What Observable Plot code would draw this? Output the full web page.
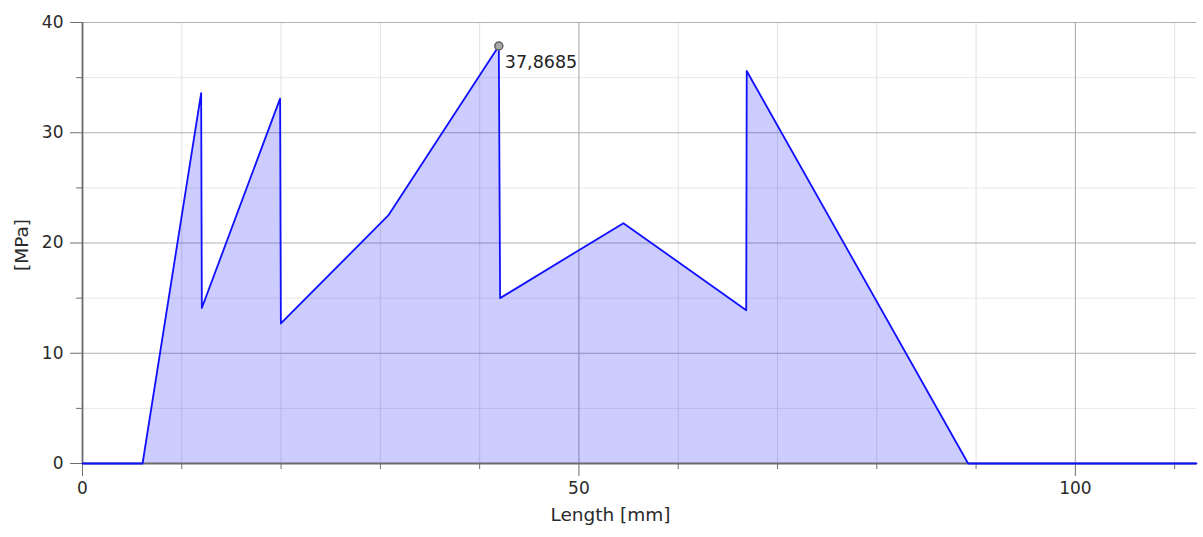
<!DOCTYPE html>
<html><head><meta charset="utf-8">
<script src="https://cdn.jsdelivr.net/npm/d3@7"></script>
<script src="https://cdn.jsdelivr.net/npm/@observablehq/plot@0.6"></script>
<style>
html,body{margin:0;padding:0;background:#fff;}
</style></head><body><div id="chart"></div>
<script>
const lengthMm = [0, 6.05, 11.95, 12.02, 19.9, 19.98, 30.8, 41.93, 42.06, 54.48, 66.85, 66.9, 89.2, 112.2];
const stressMPa = [0, 0, 33.6, 14.1, 33.1, 12.7, 22.5, 37.8685, 15.0, 21.8, 13.9, 35.6, 0, 0];
const xMajorTicks = [0, 50, 100];
const xMinorTicks = [10, 20, 30, 40, 60, 70, 80, 90, 110];
const yMajorTicks = [0, 10, 20, 30, 40];
const yMinorTicks = [5, 15, 25, 35];
const xLabel = "Length [mm]";
const yLabel = "[MPa]";

const data = lengthMm.map((x, i) => ({x, y: stressMPa[i]}));
const peak = data.reduce((a, b) => (b.y > a.y ? b : a));
const peakText = peak.y.toFixed(4).replace(".", ",");

const plot = Plot.plot({
  width: 1203, height: 537,
  marginLeft: 82, marginRight: 7, marginTop: 22, marginBottom: 74,
  style: {fontFamily: "DejaVu Sans", fontSize: "17px", color: "#333", background: "#fff"},
  x: {domain: [0, 112.2], label: null},
  y: {domain: [0, 40], label: null},
  marks: [
    Plot.ruleY(yMinorTicks, {stroke: "#e8e8e8"}),
    Plot.ruleX(xMinorTicks, {stroke: "#e2e2e2"}),
    Plot.ruleY(yMajorTicks.filter(d => d > 0), {stroke: "#b2b2b2"}),
    Plot.ruleX(xMajorTicks.filter(d => d > 0), {stroke: "#a4a4a4"}),
    Plot.areaY(data, {x: "x", y: "y", fill: "blue", fillOpacity: 0.2}),
    Plot.axisY(yMinorTicks, {tickSize: 6, tickFormat: () => "", stroke: "#707070", label: null}),
    Plot.axisY(yMajorTicks, {tickSize: 12, tickPadding: 7, stroke: "#707070", fill: "#2a2a2a", label: null}),
    Plot.axisX(xMinorTicks, {tickSize: 6, tickFormat: () => "", stroke: "#707070", label: null}),
    Plot.axisX(xMajorTicks, {tickSize: 13, tickPadding: 5, stroke: "#707070", fill: "#2a2a2a", label: null}),
    Plot.ruleX([0], {stroke: "#6a6a6a", strokeWidth: 1.8}),
    Plot.ruleY([0], {stroke: "#6a6a6a", strokeWidth: 1.8}),
    Plot.lineY(data, {x: "x", y: "y", stroke: "#1010ff", strokeWidth: 1.8}),
    Plot.dot([peak], {x: "x", y: "y", r: 4, fill: "#a8a8a8", stroke: "#606060", strokeWidth: 1.5}),
    Plot.text([peak], {x: "x", y: "y", text: () => peakText, textAnchor: "start", dx: 6, dy: 16, fill: "#222", fontSize: 17.5}),
    Plot.text([xLabel], {frameAnchor: "bottom", text: d => d, dx: -29, dy: 57, fill: "#2a2a2a", fontSize: 18.5}),
    Plot.text([yLabel], {frameAnchor: "left", text: d => d, rotate: -90, dx: -60, dy: 28, fill: "#2a2a2a", fontSize: 18.5})
  ]
});
document.getElementById("chart").appendChild(plot);
</script></body></html>
